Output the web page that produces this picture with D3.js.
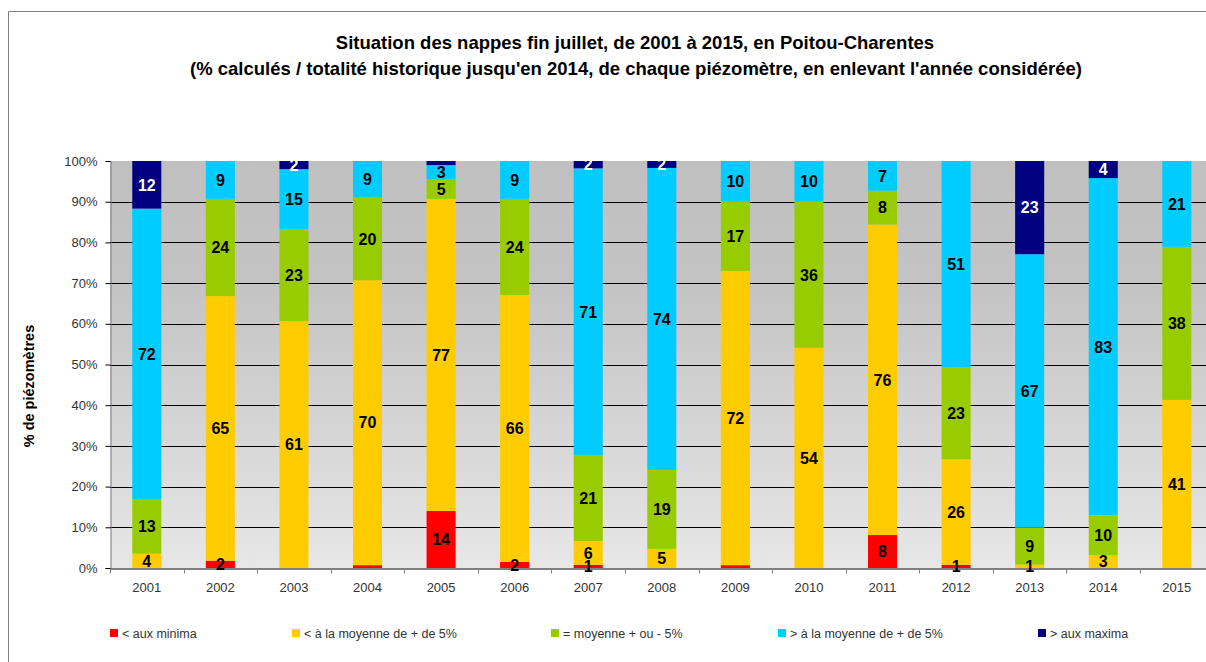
<!DOCTYPE html>
<html>
<head>
<meta charset="utf-8">
<script src="https://cdn.jsdelivr.net/npm/d3@7"></script>
<style>
  body { margin: 0; background: #fff; }
  svg { display: block; font-family: "Liberation Sans", Arial, sans-serif; }
</style>
</head>
<body>
<div id="chart"></div>
<script>
// values (% of piezometers per year)
var years = ["2001","2002","2003","2004","2005","2006","2007","2008","2009","2010","2011","2012","2013","2014","2015"];
var minima   = [0, 1.8, 0, 0.7, 14.0, 1.5, 0.8, 0, 0.7, 0, 8.1, 0.8, 0, 0, 0];
var belowAvg = [3.5, 65.0, 60.7, 70.0, 76.7, 65.6, 5.8, 4.7, 72.3, 54.1, 76.3, 25.9, 0.8, 3.2, 41.3];
var aroundAvg = [13.3, 23.9, 22.6, 20.3, 4.9, 23.6, 21.0, 19.4, 17.0, 35.9, 8.3, 22.7, 9.1, 9.7, 37.6];
var aboveAvg = [71.5, 9.3, 14.7, 9.0, 3.4, 9.3, 70.6, 74.2, 10.0, 10.0, 7.3, 50.6, 67.2, 82.9, 21.1];
var maxima   = [11.7, 0, 2.0, 0, 1.0, 0, 1.8, 1.7, 0, 0, 0, 0, 22.9, 4.2, 0];
var yTicks = [0, 10, 20, 30, 40, 50, 60, 70, 80, 90, 100];
// labels that are not shown on the original
var hiddenLabels = ["2004|minima", "2009|minima", "2005|maxima"];

var seriesKeys = ["minima", "belowAvg", "aroundAvg", "aboveAvg", "maxima"];
var seriesNames = ["< aux minima", "< à la moyenne de + de 5%", "= moyenne + ou - 5%", "> à la moyenne de + de 5%", "> aux maxima"];
var colors = ["#ff0000", "#ffcc00", "#99cc00", "#00ccff", "#000080"];
var labelColors = ["#000", "#000", "#000", "#000", "#fff"];

var rows = years.map(function(y, i) {
    return {year: y, minima: minima[i], belowAvg: belowAvg[i], aroundAvg: aroundAvg[i],
            aboveAvg: aboveAvg[i], maxima: maxima[i]};
});

var width = 1206, height = 662;
var plot = {left: 110, top: 161, bottom: 568, right: 1213.6};

var svg = d3.select("#chart").append("svg")
    .attr("width", width)
    .attr("height", height);

// chart frame
svg.append("path")
    .attr("d", "M8.5," + height + "V11.5H" + width)
    .attr("fill", "none")
    .attr("stroke", "#7f7f7f")
    .attr("stroke-width", 1);

// gradient background of the plot area
var grad = svg.append("defs").append("linearGradient")
    .attr("id", "bg").attr("x1", 0).attr("y1", 0).attr("x2", 0).attr("y2", 1);
grad.append("stop").attr("offset", "0%").attr("stop-color", "#c0c0c0");
grad.append("stop").attr("offset", "30%").attr("stop-color", "#c3c3c3");
grad.append("stop").attr("offset", "100%").attr("stop-color", "#e7e7e7");

var x = d3.scaleBand()
    .domain(years)
    .range([plot.left, plot.right])
    .paddingInner(0.605)
    .paddingOuter(0.3025);

var y = d3.scaleLinear()
    .domain([0, 100])
    .range([plot.bottom, plot.top]);

svg.append("rect")
    .attr("x", plot.left)
    .attr("y", plot.top)
    .attr("width", plot.right - plot.left)
    .attr("height", plot.bottom - plot.top)
    .attr("fill", "url(#bg)");

// gridlines
svg.append("g").selectAll("line")
    .data(yTicks.filter(function(d) { return d > 0 && d < 100; }))
    .enter().append("line")
    .attr("x1", plot.left).attr("x2", plot.right)
    .attr("y1", function(d) { return Math.round(y(d)) + 0.5; })
    .attr("y2", function(d) { return Math.round(y(d)) + 0.5; })
    .attr("stroke", "#000")
    .attr("stroke-width", 1);

// stacked bars
var stack = d3.stack().keys(seriesKeys);
var series = stack(rows);

var groups = svg.append("g").selectAll("g")
    .data(series)
    .enter().append("g")
    .attr("fill", function(d, i) { return colors[i]; });

groups.selectAll("rect")
    .data(function(d) { return d; })
    .enter().append("rect")
    .attr("x", function(d) { return x(d.data.year); })
    .attr("y", function(d) { return y(d[1]); })
    .attr("width", x.bandwidth())
    .attr("height", function(d) { return y(d[0]) - y(d[1]); });

// value labels
series.forEach(function(s, si) {
    svg.append("g").selectAll("text")
        .data(s.filter(function(d) {
            var v = d[1] - d[0];
            return v > 0 && hiddenLabels.indexOf(d.data.year + "|" + s.key) < 0;
        }))
        .enter().append("text")
        .attr("x", function(d) { return x(d.data.year) + x.bandwidth() / 2; })
        .attr("y", function(d) { return y((d[0] + d[1]) / 2); })
        .attr("dy", "0.36em")
        .attr("text-anchor", "middle")
        .style("font-size", "16px")
        .style("font-weight", "bold")
        .attr("fill", labelColors[si])
        .text(function(d) { return Math.round(d[1] - d[0]); });
});

// y axis
var yAxis = d3.axisLeft(y)
    .tickValues(yTicks)
    .tickSize(5)
    .tickPadding(8)
    .tickFormat(function(d) { return d + "%"; });
var gy = svg.append("g")
    .attr("transform", "translate(" + (plot.left + 0.5) + ",0)")
    .call(yAxis);
gy.select(".domain").attr("stroke", "#808080");
gy.selectAll(".tick line").attr("stroke", "#000");
gy.selectAll("text").style("font-size", "13px").attr("fill", "#333");

// x axis: labels centred on the bars, ticks on the category boundaries
var xAxis = d3.axisBottom(x).tickSize(0).tickPadding(14);
var gx = svg.append("g")
    .attr("transform", "translate(0," + (plot.bottom + 0.5) + ")")
    .call(xAxis);
gx.select(".domain").attr("stroke", "#000");
gx.selectAll("text").style("font-size", "13px").attr("fill", "#333");
gx.selectAll(".bound")
    .data(d3.range(years.length + 1))
    .enter().append("line")
    .attr("class", "bound")
    .attr("x1", function(i) { return Math.round(plot.left + i * x.step()) + 0.5; })
    .attr("x2", function(i) { return Math.round(plot.left + i * x.step()) + 0.5; })
    .attr("y1", 0).attr("y2", 5)
    .attr("stroke", "#808080");

// axis title
svg.append("text")
    .attr("transform", "translate(34,386) rotate(-90)")
    .attr("text-anchor", "middle")
    .style("font-size", "14.5px")
    .style("font-weight", "bold")
    .text("% de piézomètres");

// title
var title = svg.append("g").style("font-weight", "bold").style("font-size", "18.5px");
title.append("text")
    .attr("x", 635).attr("y", 49)
    .attr("text-anchor", "middle")
    .text("Situation des nappes fin juillet, de 2001 à 2015, en Poitou-Charentes");
title.append("text")
    .attr("x", 636).attr("y", 75)
    .attr("text-anchor", "middle")
    .text("(% calculés / totalité historique jusqu'en 2014, de chaque piézomètre,  en enlevant l'année considérée)");

// legend
var legendX = [110, 292, 551, 778, 1038];
var legend = svg.append("g").selectAll("g")
    .data(seriesNames)
    .enter().append("g")
    .attr("transform", function(d, i) { return "translate(" + legendX[i] + ",629)"; });
legend.append("rect")
    .attr("width", 8).attr("height", 8)
    .attr("fill", function(d, i) { return colors[i]; });
legend.append("text")
    .attr("x", 12).attr("y", 8.5)
    .style("font-size", "12.5px")
    .attr("fill", "#333")
    .text(function(d) { return d; });
</script>
</body>
</html>
